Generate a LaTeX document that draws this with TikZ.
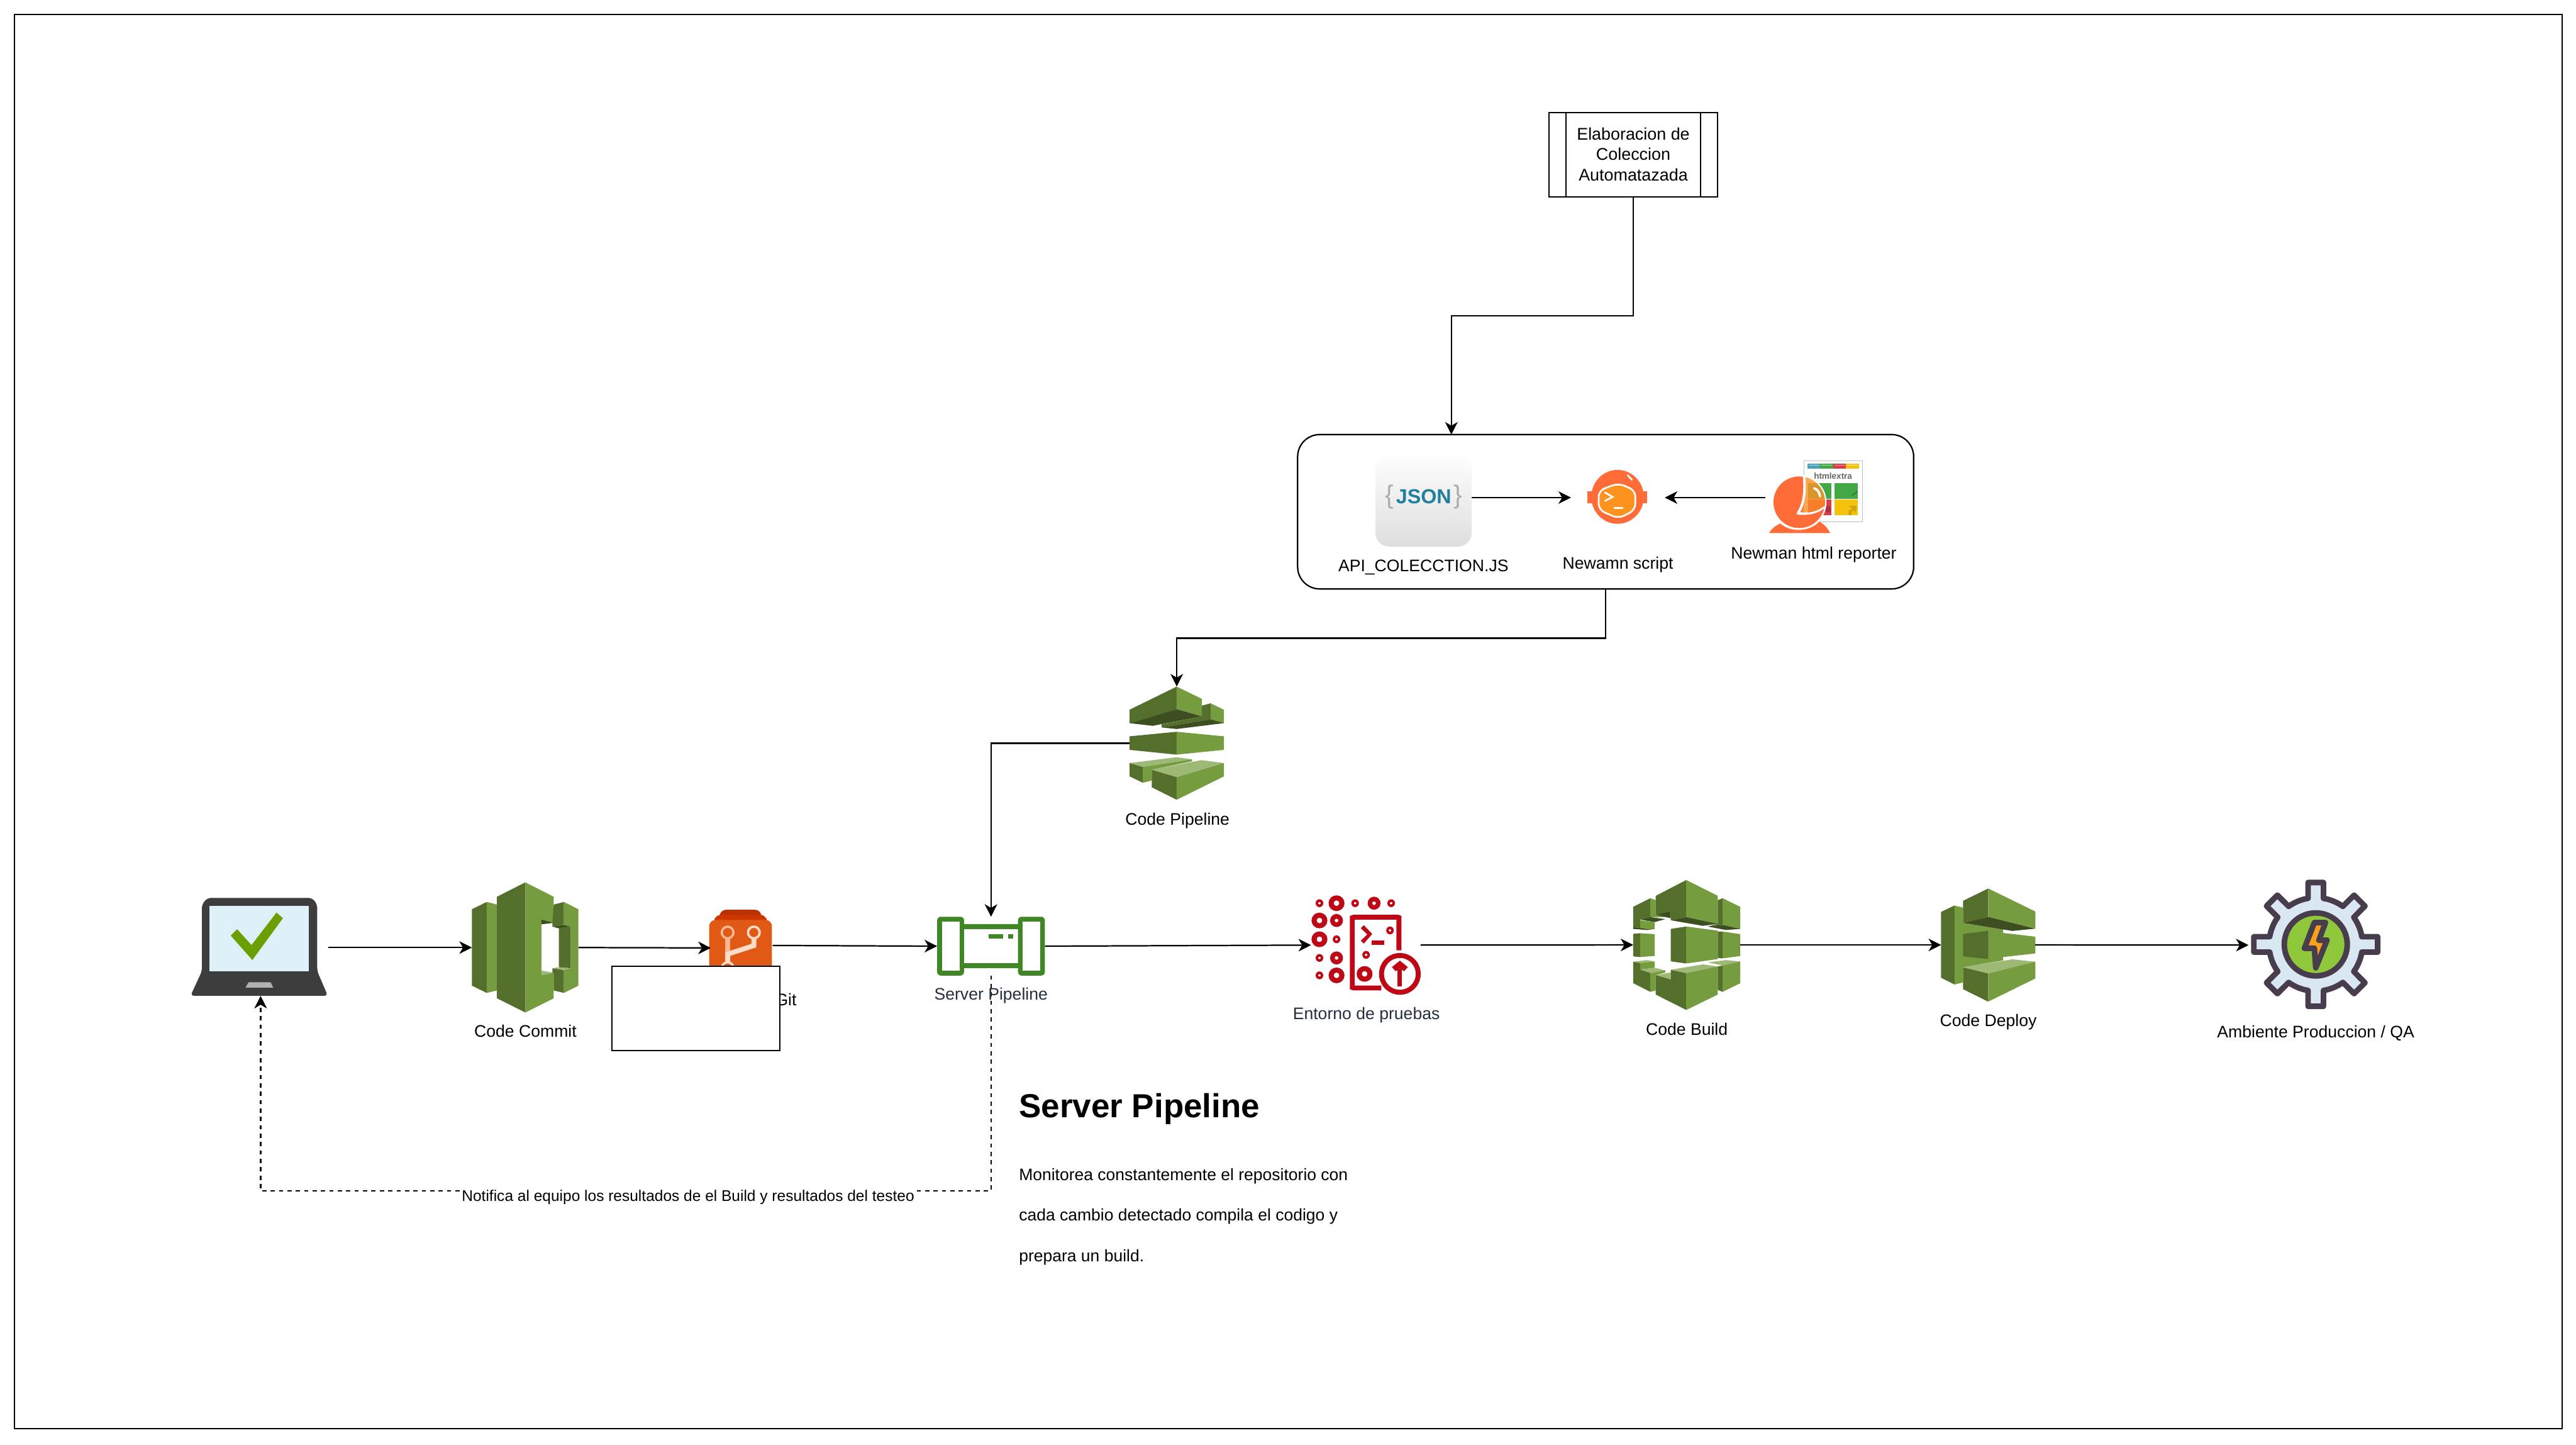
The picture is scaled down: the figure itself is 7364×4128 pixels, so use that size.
\documentclass[tikz,border=0pt]{standalone}
\usepackage{fontspec}
\setmainfont{Liberation Sans}
\usetikzlibrary{arrows.meta}
\definecolor{awsL}{HTML}{759C3E}
\definecolor{awsD}{HTML}{546F2B}
\definecolor{awsK}{HTML}{3D4F20}
\definecolor{awsH}{HTML}{9EB976}
\definecolor{ink}{HTML}{232F3E}
\definecolor{pipeG}{HTML}{3F8624}
\definecolor{testR}{HTML}{BF0816}
\definecolor{pmO}{HTML}{FF6C37}
\definecolor{pmV}{HTML}{FF931E}
\definecolor{visor}{HTML}{FF9023}
\definecolor{gearD}{HTML}{483D4D}
\definecolor{gearF}{HTML}{D9E7F2}
\definecolor{gearG}{HTML}{8FC83B}
\definecolor{gearY}{HTML}{FCA01A}
\definecolor{tileB}{HTML}{4BA2B9}
\definecolor{tileG}{HTML}{42A846}
\definecolor{tileR}{HTML}{DD3A48}
\definecolor{tileY}{HTML}{F4C20D}
\definecolor{scrn}{HTML}{DEF0F7}
\definecolor{tick}{HTML}{6B9E00}
\definecolor{gitA}{HTML}{BA3200}
\definecolor{gitB}{HTML}{CF3600}
\definecolor{gitC}{HTML}{E15A15}
\definecolor{gitS}{HTML}{FFB592}
\definecolor{gitP}{HTML}{FFDCC8}
\definecolor{jsonT}{HTML}{1F7F9C}
\newcommand\poly[2]{\fill[#1] #2 -- cycle;}
\tikzset{
  iconbox/.style 2 args={minimum width=#1cm,minimum height=#2cm,inner sep=0pt,outer sep=0pt},
  lbl/.style={font=\fontsize{13.6}{16.2}\selectfont,anchor=base,inner sep=0pt},
  bodytxt/.style={font=\fontsize{13.55}{16.2}\selectfont,anchor=base west,inner sep=0pt},
  conn/.style={-{Stealth[length=10.2pt,width=10.2pt,inset=3pt]}},
  dashline/.style={dash pattern=on 3.41pt off 3.41pt}
}
\begin{document}
\begin{tikzpicture}[x=0.01cm,y=-0.01cm,line width=1.14pt]
\useasboundingbox (0,0) rectangle (7364,4128);
\fill[white] (0,0) rectangle (7364,4128);
\node[draw,minimum width=72.78cm,minimum height=40.40cm,inner sep=0pt,outer sep=0pt] (frame) at (3683,2062) {};

% process box
\node[draw,minimum width=4.805cm,minimum height=2.405cm,align=center,inner sep=0pt,outer sep=0pt,font=\fontsize{13.75}{16.2}\selectfont] (proc) at (4669,441.75) {\raisebox{1pt}{Elaboracion de}\\\raisebox{1pt}{Coleccion}\\Automatazada};
\draw ([xshift=0.48cm]proc.north west) -- ([xshift=0.48cm]proc.south west);
\draw ([xshift=-0.48cm]proc.north east) -- ([xshift=-0.48cm]proc.south east);

% group
\node[draw,rounded corners=18pt,iconbox={17.6}{4.41}] (group) at (4590,1462.5) {};

% JSON
\node[iconbox={2.75}{2.80}] (json) at (4069.5,1422) {};
\shade[top color=white,bottom color=black!13,rounded corners=11pt] (3932,1291) rectangle (4207,1562);
\node[inner sep=0pt,font=\fontsize{16.5}{20}\selectfont\bfseries] (jsontxt) at (4070,1420) {\textcolor{black!32}{\fontsize{21}{22}\selectfont\mdseries\{}\hspace{1.8pt}\textcolor{jsonT}{JSON}\hspace{1.8pt}\textcolor{black!32}{\fontsize{21}{22}\selectfont\mdseries\}}};
\node[lbl] (jsonlbl) at (4069,1633) {API\_COLECCTION.JS};

% Newman script icon
\node[iconbox={2.68}{1.6}] (ns) at (4625,1422) {};
\fill[pmO] (4538,1405) rectangle (4709,1438);
\fill[pmO] (4624,1420) ellipse [x radius=75,y radius=77];
\filldraw[fill=pmV,draw=white,line width=1.4pt,rounded corners=5pt] (4627,1381) -- (4675,1402) -- (4675,1457) -- (4627,1482) -- (4570,1457) -- (4570,1402) -- cycle;
\draw[white,line width=1.4pt] (4587,1407) -- (4610,1420) -- (4587,1432);
\draw[white,line width=1.4pt] (4613,1452) -- (4640,1452);
\draw[white,line width=1.4pt,line cap=round] (4653,1358) -- (4665,1371);
\node[lbl] (nslbl) at (4625,1626) {Newamn script};

% Newman reporter
\node[iconbox={2.77}{2.04}] (rep) at (5184.5,1422) {};
\begin{scope}[shift={(5000,1280)},scale=1/3]
  \filldraw[fill=white,draw=black!25,line width=0.45pt] (470,110) rectangle (970,636);
  \fill[tileB] (501,134) rectangle (611,178);
  \fill[tileG] (611,134) rectangle (722,178);
  \fill[tileR] (722,134) rectangle (832,178);
  \fill[tileY] (832,134) rectangle (941,178);
  \foreach \q in {512,622,733,843} \draw[white,opacity=.6,line width=0.5pt] (\q,148) -- ++(90,0);
  \node[inner sep=0pt,font=\fontsize{6.9}{8}\selectfont\bfseries,text=black!60] (htmlx) at (720,240) {htmlextra};
  \fill[tileG] (507,303) rectangle (704,438);
  \fill[tileG] (735,303) rectangle (933,438);
  \fill[tileR] (507,443) rectangle (704,577);
  \fill[tileY] (735,443) rectangle (933,577);
  \poly{tileG!75!black}{(880,400) -- (930,368) -- (930,380) -- (885,412)}
  \poly{tileY!85!black}{(852,575) -- (855,535) -- (885,525) -- (860,497) -- (925,497) -- (912,555) -- (895,535) -- (878,548) -- (878,575)}
  \fill[tileR!80!black] (675,525) circle [radius=28];
  \fill[white] (430,466) circle [radius=234];
  \fill[pmO] (430,466) circle [radius=221];
  \begin{scope}
    \clip (430,466) circle [radius=221];
    \draw[white,line width=2.1pt,line cap=round,line join=round] (473,240) .. controls (480,360) and (480,470) .. (418,561) .. controls (520,570) and (600,550) .. (660,490);
    \clip (484,240) .. controls (492,360) and (490,470) .. (450,553) .. controls (530,560) and (600,540) .. (665,480) -- (700,480) -- (700,240) -- cycle;
    \fill[white] (470,200) rectangle (700,700);
    \fill[tileG] (507,303) rectangle (704,438);
    \fill[tileR] (507,443) rectangle (704,577);
    \fill[visor,opacity=.8] (400,200) rectangle (720,700);
  \end{scope}
  \draw[white,line width=1.9pt,line cap=round] (558,346) .. controls (590,356) and (604,385) .. (608,416);
  \fill[pmO] (172,730) .. controls (195,690) and (230,665) .. (268,648) .. controls (350,725) and (510,725) .. (602,633) .. controls (650,655) and (680,700) .. (695,730) -- cycle;
\end{scope}
\node[lbl] (replbl) at (5185,1597) {Newman html reporter};

% Code Pipeline
\node[iconbox={2.70}{3.24}] (cp) at (3364,2124) {};
\begin{scope}[shift={(3150,1900)},scale=1/3]
  \poly{awsD}{(857,350) -- (933,330) -- (933,467) -- (513,537) -- (513,510) -- (857,442)}
  \poly{awsL}{(933,330) -- (1047,386) -- (1047,500) -- (933,467)}
  \poly{awsK}{(513,537) -- (933,467) -- (1047,500) -- (641,550)}
  \poly{awsD}{(237,385) -- (641,187) -- (641,380) -- (237,500)}
  \poly{awsL}{(641,187) -- (857,292) -- (857,442) -- (641,380)}
  \poly{awsK}{(237,500) -- (641,380) -- (857,442) -- (435,523)}
  \poly{awsD}{(237,613) -- (641,574) -- (641,770) -- (237,729)}
  \poly{awsL}{(641,574) -- (1047,613) -- (1047,729) -- (641,770)}
  \poly{awsH}{(237,842) -- (641,792) -- (772,810) -- (351,876)}
  \poly{awsD}{(237,842) -- (351,876) -- (351,1011) -- (237,956)}
  \poly{awsL}{(351,876) -- (772,810) -- (772,827) -- (427,900) -- (427,992) -- (351,1011)}
  \poly{awsH}{(427,900) -- (851,817) -- (1047,842) -- (641,963)}
  \poly{awsD}{(427,900) -- (641,963) -- (641,1157) -- (427,1050)}
  \poly{awsL}{(641,963) -- (1047,842) -- (1047,956) -- (641,1157)}
\end{scope}
\node[lbl] (cplbl) at (3366,2358) {Code Pipeline};

% Laptop
\node[iconbox={3.86}{2.76}] (laptop) at (745,2708) {};
\begin{scope}[shift={(450,2450)},xscale=1.2117,yscale=0.4146]
  \fill[black!76,rounded corners=3pt] (105,325) -- (118,280) -- (365,280) -- (377,325) -- (377,785) -- (402,955) -- (78,955) -- (105,785) -- cycle;
  \fill[scrn] (123,333) rectangle (357,786);
  \fill[tick] (281,381) -- (296,420) -- (224,708) -- (173,540) -- (188,496) -- (222,605) -- cycle;
  \fill[black!30] (215,861) -- (267,861) -- (273,898) -- (208,898) -- cycle;
\end{scope}

% Code Commit
\node[iconbox={3.05}{3.72}] (commit) at (1501.5,2708) {};
\begin{scope}[shift={(450,2450)},xscale=1.2117,yscale=0.4146]
  \poly{awsD}{(742,358) -- (777,308) -- (777,935) -- (742,885)}
  \poly{awsL}{(777,308) -- (801,326) -- (801,918) -- (777,935)}
  \poly{awsD}{(801,272) -- (868,173) -- (868,1070) -- (801,972)}
  \poly{awsL}{(868,173) -- (935,272) -- (935,455) -- (906,432) -- (906,782) -- (935,797) -- (935,972) -- (868,1070)}
  \poly{awsK}{(906,430) -- (935,452) -- (906,462)}
  \poly{awsH}{(906,782) -- (935,797) -- (906,814)}
  \poly{awsL}{(959,308) -- (993,358) -- (993,885) -- (959,935) -- (959,775) -- (975,765) -- (975,478) -- (959,467)}
  \poly{awsD}{(935,326) -- (959,308) -- (959,467) -- (932,478) -- (932,452)}
  \poly{awsK}{(932,478) -- (959,467) -- (975,478) -- (947,490)}
  \poly{awsD}{(947,488) -- (975,478) -- (975,765) -- (947,758)}
  \poly{awsH}{(932,765) -- (947,758) -- (975,765) -- (959,775)}
  \poly{awsD}{(932,765) -- (959,777) -- (959,935) -- (935,918) -- (935,797) -- (932,797)}
\end{scope}
\node[lbl] (commitlbl) at (1502,2964) {Code Commit};

% Git
\node[iconbox={1.77}{2.8}] (git) at (2120.5,2709) {};
\coordinate (gitin) at (2032,2709);
\coordinate (gitout) at (2209,2702);
\begin{scope}[shift={(1900,2540)},scale=1/3]
  \fill[gitA,rounded corners=5pt] (473,260) -- (473,180) -- (828,180) -- (828,260) -- cycle;
  \fill[gitB,rounded corners=5pt] (427,300) -- (427,224) -- (875,224) -- (875,300) -- cycle;
  \fill[gitC,rounded corners=5pt] (382,760) -- (382,268) -- (920,268) -- (920,760) -- cycle;
  \fill[gitS] (519,420) rectangle (563,560);
  \draw[gitS,line width=1.9pt] (540,375) circle [radius=50];
  \draw[gitP,line width=1.9pt] (765,375) circle [radius=50];
  \fill[gitP] (745,425) -- (787,425) -- (787,502) -- (563,575) -- (563,630) -- (519,630) -- (519,545) -- (745,472) -- cycle;
  \draw[gitP,line width=1.9pt] (540,680) circle [radius=50];
\end{scope}
\node[lbl,anchor=base east] (gitlbl) at (2279,2874) {Git};
\node[draw,fill=white,iconbox={4.80}{2.41}] (blank) at (1989,2881.5) {};

% Server Pipeline
\node[iconbox={3.08}{1.68}] (sp) at (2833,2704) {};
\fill[pipeG,rounded corners=3pt] (2679,2620) rectangle (2756,2788);
\fill[pipeG,rounded corners=3pt] (2910,2620) rectangle (2987,2788);
\fill[white] (2693,2634) rectangle (2743,2774);
\fill[white] (2924,2634) rectangle (2973,2774);
\fill[pipeG] (2756,2641) rectangle (2910,2655);
\fill[pipeG] (2756,2753) rectangle (2910,2767);
\fill[pipeG] (2826,2669) rectangle (2868,2683);
\fill[pipeG] (2882,2669) rectangle (2896,2683);

% Entorno
\node[iconbox={3.13}{2.84}] (env) at (3904.5,2701) {};
\begin{scope}[shift={(2550,2450)},xscale=1.0842,yscale=0.3508]
  \foreach \cx/\cy in {1127/374,1221/374,1316/374,1172/668,1127/820,1127/962,1313/596,1250/795}
    \fill[testR,even odd rule] (\cx,\cy) ellipse [x radius=10,y radius=32] (\cx,\cy) ellipse [x radius=3.5,y radius=10];
  \foreach \cx/\cy in {1271/374,1172/515,1172/820}
    \fill[testR,even odd rule] (\cx,\cy) ellipse [x radius=17,y radius=53] (\cx,\cy) ellipse [x radius=5,y radius=15];
  \foreach \cx/\cy in {1172/374,1127/515,1127/668,1172/962,1246/950}
    \fill[testR,even odd rule] (\cx,\cy) ellipse [x radius=21,y radius=64] (\cx,\cy) ellipse [x radius=7.5,y radius=23];
  \fill[testR] (1207,478) -- (1217,468) -- (1335,468) -- (1343,478) -- (1343,758) -- (1330,758) -- (1330,508) -- (1220,508) -- (1220,1045) -- (1290,1045) -- (1290,1085) -- (1217,1085) -- (1207,1075) -- cycle;
  \fill[testR] (1244,553) -- (1266,625) -- (1244,703) -- (1236,680) -- (1253,628) -- (1236,578) -- cycle;
  \fill[testR] (1264,676) rectangle (1298,716);
  \fill[testR,even odd rule] (1339,950) ellipse [x radius=55,y radius=170] (1339,950) ellipse [x radius=42,y radius=130];
  \fill[testR] (1332,910) rectangle (1345,1050);
  \fill[testR] (1339,842) -- (1360,895) -- (1350,928) -- (1339,905) -- (1328,928) -- (1318,895) -- cycle;
\end{scope}
\node[lbl,text=ink] (envlbl) at (3906,2914) {Entorno de pruebas};

% Code Build
\node[iconbox={3.06}{3.71}] (build) at (4822,2700.5) {};
\begin{scope}[shift={(4600,2450)},xscale=1.5306,yscale=0.3827]
  \poly{awsD}{(45,370) -- (77,306) -- (77,447) -- (58,465) -- (58,528) -- (45,522)}
  \poly{awsL}{(77,306) -- (87,320) -- (87,430) -- (105,447) -- (77,447)}
  \poly{awsK}{(58,465) -- (77,447) -- (105,462) -- (85,484)}
  \poly{awsL}{(58,470) -- (85,484) -- (85,535) -- (70,543) -- (58,528)}
  \poly{awsK}{(45,522) -- (58,528) -- (70,537) -- (85,535) -- (70,543) -- (45,535)}
  \poly{awsD}{(87,288) -- (144,170) -- (144,447) -- (115,470) -- (115,400) -- (87,430)}
  \poly{awsK}{(87,430) -- (115,400) -- (115,455)}
  \poly{awsL}{(144,170) -- (203,288) -- (203,497) -- (144,447)}
  \poly{awsK}{(115,470) -- (144,447) -- (203,497) -- (175,512)}
  \poly{awsD}{(203,320) -- (212,306) -- (212,505) -- (184,517) -- (203,497)}
  \poly{awsL}{(212,306) -- (245,370) -- (245,535) -- (212,505)}
  \poly{awsK}{(184,517) -- (212,505) -- (245,535) -- (218,543)}
  \poly{awsD}{(115,535) -- (144,517) -- (144,793) -- (115,777)}
  \poly{awsL}{(144,517) -- (203,548) -- (203,760) -- (144,793)}
  \poly{awsD}{(45,572) -- (58,567) -- (58,745) -- (45,740)}
  \poly{awsL}{(58,567) -- (85,574) -- (85,737) -- (58,745)}
  \poly{awsD}{(203,555) -- (212,555) -- (212,755) -- (203,752)}
  \poly{awsL}{(212,555) -- (245,574) -- (245,737) -- (212,755)}
  \poly{awsH}{(45,780) -- (70,768) -- (85,777) -- (58,790)}
  \poly{awsD}{(45,780) -- (58,790) -- (58,838) -- (77,860) -- (77,1005) -- (45,940)}
  \poly{awsL}{(58,790) -- (85,777) -- (85,825) -- (58,838)}
  \poly{awsH}{(58,838) -- (85,825) -- (105,845) -- (77,865)}
  \poly{awsL}{(77,865) -- (105,845) -- (105,860) -- (87,880) -- (87,995) -- (77,1005)}
  \poly{awsH}{(87,880) -- (115,860) -- (115,912)}
  \poly{awsD}{(87,880) -- (115,912) -- (115,840) -- (144,865) -- (144,1140) -- (87,1025)}
  \poly{awsH}{(115,840) -- (175,800) -- (203,815) -- (144,865)}
  \poly{awsL}{(144,865) -- (203,815) -- (203,1025) -- (144,1140)}
  \poly{awsD}{(203,815) -- (212,808) -- (212,1005) -- (203,990)}
  \poly{awsH}{(184,785) -- (218,768) -- (245,778) -- (212,808)}
  \poly{awsL}{(212,808) -- (245,778) -- (245,940) -- (212,1005)}
\end{scope}
\node[lbl] (buildlbl) at (4822,2958) {Code Build};

% Code Deploy
\node[iconbox={2.69}{3.23}] (deploy) at (5683.5,2700.5) {};
\begin{scope}[shift={(4600,2450)},xscale=1.5306,yscale=0.3827]
  \poly{awsD}{(620,408) -- (645,360) -- (645,950) -- (620,900)}
  \poly{awsL}{(645,360) -- (661,376) -- (661,490) -- (736,538) -- (736,565) -- (796,593) -- (796,718) -- (736,745) -- (736,770) -- (661,822) -- (661,935) -- (645,950)}
  \poly{awsD}{(661,325) -- (708,233) -- (708,445) -- (661,490)}
  \poly{awsL}{(708,233) -- (796,405) -- (796,533) -- (708,445)}
  \poly{awsK}{(661,490) -- (708,445) -- (796,533) -- (753,550)}
  \poly{awsD}{(661,573) -- (708,549) -- (708,760) -- (661,740)}
  \poly{awsH}{(661,822) -- (753,762) -- (796,780) -- (708,868)}
  \poly{awsD}{(661,822) -- (708,868) -- (708,1078) -- (661,985)}
  \poly{awsL}{(708,868) -- (796,780) -- (796,905) -- (708,1078)}
\end{scope}
\node[lbl] (deploylbl) at (5684,2934) {Code Deploy};

% Gear
\node[iconbox={3.84}{3.74}] (gear) at (6620,2701) {};
\begin{scope}[shift={(6620,2699)},scale=1/3]
  \filldraw[fill=gearF,draw=gearD,line width=4.55pt,line join=round] (-9.5:400.5)
    \foreach \a in {0,45,...,315} { -- (\a-9.5:400.5) -- (\a-7.08:535) -- (\a+7.08:535) -- (\a+9.5:400.5) arc [start angle=\a+9.5,end angle=\a+35.5,radius=400.5] } -- cycle;
  \filldraw[fill=gearG,draw=gearD,line width=4.55pt] (0,0) circle [radius=270];
\end{scope}
\begin{scope}[shift={(6420,2500)},scale=1/3]
  \filldraw[fill=gearY,draw=gearD,line width=4.55pt,line join=round] (588,410) -- (683,410) -- (627,561) -- (696,561) -- (600,798) -- (588,630) -- (503,630) -- cycle;
\end{scope}
\node[lbl] (gearlbl) at (6620,2966) {Ambiente Produccion / QA};

% Side text
\node[anchor=base west,inner sep=0pt,font=\fontsize{27.1}{32}\selectfont\bfseries] (head) at (2911,3193) {Server Pipeline};
\node[bodytxt] (line1) at (2911,3373) {Monitorea constantemente el repositorio con};
\node[bodytxt] (line2) at (2911,3489) {cada cambio detectado compila el codigo y};
\node[bodytxt] (line3) at (2911,3605) {prepara un build.};

% Connectors
\coordinate (b1) at (4400,902);
\coordinate (groupin) at (4149,1242);
\coordinate (b2) at (4000,1824);
\coordinate (b3) at (1800,3403);
\draw[conn] (proc.south) |- (b1) -| (groupin);
\draw[conn] (group.south) |- (b2) -| (cp.north);
\draw[conn] (cp.west) -| (sp.north);
\draw[conn] (json.east) -- (ns.west);
\draw[conn] (rep.west) -- (ns.east);
\draw[conn] (laptop.east) -- (commit.west);
\draw[conn] (commit.east) -- (gitin);
\draw[conn] (gitout) -- (sp.west);
\draw[conn] (sp.east) -- (env.west);
\draw[conn] (env.east) -- (build.west);
\draw[conn] (build.east) -- (deploy.west);
\draw[conn] (deploy.east) -- (gear.west);
\draw[conn,dashline] (sp.south) |- (b3) -| (laptop.south);
\node[lbl,fill=white,font=\fontsize{12.53}{14}\selectfont,inner xsep=1.5pt,inner ysep=2pt] (note) at (1967,3433) {Notifica al equipo los resultados de el Build y resultados del testeo};
\node[lbl,text=ink] (splbl) at (2833,2858) {Server Pipeline};
\end{tikzpicture}
\end{document}
